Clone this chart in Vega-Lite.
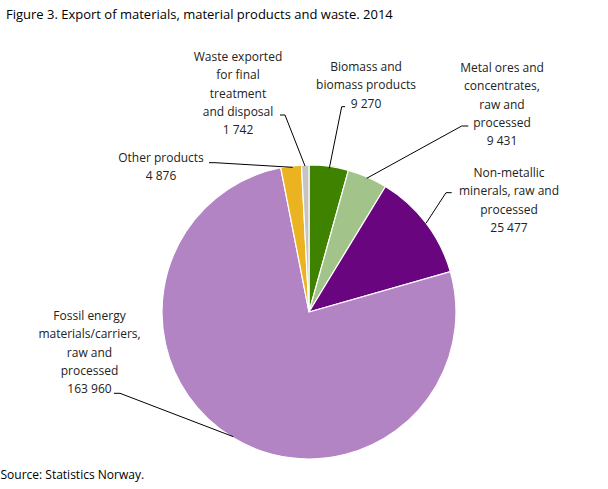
{
  "$schema": "https://vega.github.io/schema/vega-lite/v6.json",
  "width": 608,
  "height": 439,
  "autosize": {"type": "none"},
  "padding": {"top": 30, "left": 0, "right": 0, "bottom": 20},
  "title": {
    "text": "Figure 3. Export of materials, material products and waste. 2014",
    "anchor": "start",
    "frame": "group",
    "font": "Open Sans",
    "fontSize": 13,
    "fontWeight": "normal",
    "color": "#000000",
    "offset": 8,
    "dx": 6
  },
  "config": {
    "view": {"stroke": null},
    "locale": {"number": {"decimal": ",", "thousands": " ", "grouping": [3], "currency": ["", ""]}}
  },
  "data": {
    "values": [
      {"category": "Biomass and biomass products", "label": "Biomass and\nbiomass products", "value": 9270},
      {"category": "Metal ores and concentrates, raw and processed", "label": "Metal ores and\nconcentrates,\nraw and\nprocessed", "value": 9431},
      {"category": "Non-metallic minerals, raw and processed", "label": "Non-metallic\nminerals,  raw and\nprocessed", "value": 25477},
      {"category": "Fossil energy materials/carriers, raw and processed", "label": "Fossil energy\nmaterials/carriers,\nraw and\nprocessed", "value": 163960},
      {"category": "Other products", "label": "Other products", "value": 4876},
      {"category": "Waste exported for final treatment and disposal", "label": "Waste exported\nfor final\ntreatment\nand disposal", "value": 1742}
    ]
  },
  "transform": [
    {"window": [{"op": "row_number", "as": "rank"}]},
    {"calculate": "datum.label + '\\n' + format(datum.value, ',')", "as": "labeltext"}
  ],
  "layer": [
    {
      "mark": {"type": "arc", "outerRadius": 147, "stroke": "#ffffff", "strokeWidth": 1.2},
      "encoding": {
        "theta": {"field": "value", "type": "quantitative", "stack": true},
        "order": {"field": "rank", "type": "quantitative"},
        "color": {
          "field": "category",
          "type": "nominal",
          "legend": null,
          "scale": {
            "domain": [
              "Biomass and biomass products",
              "Metal ores and concentrates, raw and processed",
              "Non-metallic minerals, raw and processed",
              "Fossil energy materials/carriers, raw and processed",
              "Other products",
              "Waste exported for final treatment and disposal"
            ],
            "range": ["#3f8200", "#a2c48a", "#69067f", "#b384c4", "#ebb321", "#c4c4c4"]
          }
        },
        "x": {
          "datum": 0,
          "type": "quantitative",
          "scale": {"domain": [-309, 299], "nice": false, "zero": false},
          "axis": {
            "title": "Source: Statistics Norway.",
            "titleAnchor": "start",
            "titleAlign": "left",
            "titleFont": "Open Sans",
            "titleFontSize": 12,
            "titleFontWeight": "normal",
            "titleColor": "#000000",
            "titlePadding": 0,
            "labels": false,
            "ticks": false,
            "domain": false,
            "grid": false
          }
        },
        "y": {
          "datum": 0,
          "type": "quantitative",
          "scale": {"domain": [-157, 282], "nice": false, "zero": false},
          "axis": null
        }
      }
    },
    {
      "transform": [{"filter": "datum.rank == 1"}],
      "mark": {"type": "text", "align": "center", "baseline": "alphabetic", "lineBreak": "\n", "lineHeight": 18.3, "font": "Open Sans", "fontSize": 12, "color": "#222222"},
      "encoding": {"text": {"field": "labeltext"}, "x": {"datum": 57}, "y": {"datum": 241}}
    },
    {
      "transform": [{"filter": "datum.rank == 2"}],
      "mark": {"type": "text", "align": "center", "baseline": "alphabetic", "lineBreak": "\n", "lineHeight": 18.3, "font": "Open Sans", "fontSize": 12, "color": "#222222"},
      "encoding": {"text": {"field": "labeltext"}, "x": {"datum": 193}, "y": {"datum": 240}}
    },
    {
      "transform": [{"filter": "datum.rank == 3"}],
      "mark": {"type": "text", "align": "center", "baseline": "alphabetic", "lineBreak": "\n", "lineHeight": 18.3, "font": "Open Sans", "fontSize": 12, "color": "#222222"},
      "encoding": {"text": {"field": "labeltext"}, "x": {"datum": 200}, "y": {"datum": 135}}
    },
    {
      "transform": [{"filter": "datum.rank == 4"}],
      "mark": {"type": "text", "align": "center", "baseline": "alphabetic", "lineBreak": "\n", "lineHeight": 18.3, "font": "Open Sans", "fontSize": 12, "color": "#222222"},
      "encoding": {"text": {"field": "labeltext"}, "x": {"datum": -219.5}, "y": {"datum": -8}}
    },
    {
      "transform": [{"filter": "datum.rank == 5"}],
      "mark": {"type": "text", "align": "center", "baseline": "alphabetic", "lineBreak": "\n", "lineHeight": 18.3, "font": "Open Sans", "fontSize": 12, "color": "#222222"},
      "encoding": {"text": {"field": "labeltext"}, "x": {"datum": -148}, "y": {"datum": 150}}
    },
    {
      "transform": [{"filter": "datum.rank == 6"}],
      "mark": {"type": "text", "align": "center", "baseline": "alphabetic", "lineBreak": "\n", "lineHeight": 18.3, "font": "Open Sans", "fontSize": 12, "color": "#222222"},
      "encoding": {"text": {"field": "labeltext"}, "x": {"datum": -71}, "y": {"datum": 251}}
    },
    {"data": {"values": [{}]}, "mark": {"type": "rule", "color": "#000000", "strokeWidth": 1},
     "encoding": {"x": {"datum": -29}, "y": {"datum": 197}, "x2": {"datum": -24}, "y2": {"datum": 197}}},
    {"data": {"values": [{}]}, "mark": {"type": "rule", "color": "#000000", "strokeWidth": 1},
     "encoding": {"x": {"datum": -24}, "y": {"datum": 197}, "x2": {"datum": -4}, "y2": {"datum": 146}}},
    {"data": {"values": [{}]}, "mark": {"type": "rule", "color": "#000000", "strokeWidth": 1},
     "encoding": {"x": {"datum": 32.7}, "y": {"datum": 205.3}, "x2": {"datum": 36}, "y2": {"datum": 205.3}}},
    {"data": {"values": [{}]}, "mark": {"type": "rule", "color": "#000000", "strokeWidth": 1},
     "encoding": {"x": {"datum": 32.7}, "y": {"datum": 205.3}, "x2": {"datum": 20.3}, "y2": {"datum": 143.7}}},
    {"data": {"values": [{}]}, "mark": {"type": "rule", "color": "#000000", "strokeWidth": 1},
     "encoding": {"x": {"datum": 152.7}, "y": {"datum": 186}, "x2": {"datum": 159.3}, "y2": {"datum": 186}}},
    {"data": {"values": [{}]}, "mark": {"type": "rule", "color": "#000000", "strokeWidth": 1},
     "encoding": {"x": {"datum": 152.7}, "y": {"datum": 186}, "x2": {"datum": 57.7}, "y2": {"datum": 133.7}}},
    {"data": {"values": [{}]}, "mark": {"type": "rule", "color": "#000000", "strokeWidth": 1},
     "encoding": {"x": {"datum": 137}, "y": {"datum": 119.3}, "x2": {"datum": 142.7}, "y2": {"datum": 119.3}}},
    {"data": {"values": [{}]}, "mark": {"type": "rule", "color": "#000000", "strokeWidth": 1},
     "encoding": {"x": {"datum": 137}, "y": {"datum": 119.3}, "x2": {"datum": 117}, "y2": {"datum": 88.7}}},
    {"data": {"values": [{}]}, "mark": {"type": "rule", "color": "#000000", "strokeWidth": 1},
     "encoding": {"x": {"datum": -195}, "y": {"datum": -81.3}, "x2": {"datum": -189}, "y2": {"datum": -81.3}}},
    {"data": {"values": [{}]}, "mark": {"type": "rule", "color": "#000000", "strokeWidth": 1},
     "encoding": {"x": {"datum": -189}, "y": {"datum": -81.3}, "x2": {"datum": -75.7}, "y2": {"datum": -124.7}}},
    {"data": {"values": [{}]}, "mark": {"type": "rule", "color": "#000000", "strokeWidth": 1},
     "encoding": {"x": {"datum": -100}, "y": {"datum": 149.3}, "x2": {"datum": -94}, "y2": {"datum": 149.3}}},
    {"data": {"values": [{}]}, "mark": {"type": "rule", "color": "#000000", "strokeWidth": 1},
     "encoding": {"x": {"datum": -94}, "y": {"datum": 149.3}, "x2": {"datum": -16.3}, "y2": {"datum": 144.7}}}
  ]
}
